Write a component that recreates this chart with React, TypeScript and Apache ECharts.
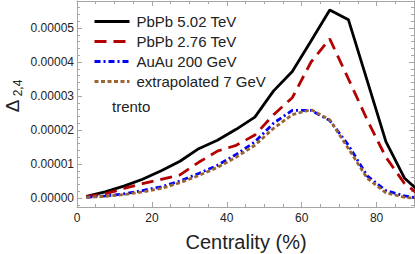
import React, { useEffect, useRef } from "react";
import * as echarts from "echarts";

const centrality = [2.5, 7.5, 12.5, 17.5, 22.5, 27.5, 32.5, 37.5, 42.5, 47.5, 52.5, 57.5, 62.5, 67.5, 72.5, 77.5, 82.5, 87.5, 92.5];
const pbpb502 = [0.05e-5, 0.18e-5, 0.35e-5, 0.55e-5, 0.8e-5, 1.08e-5, 1.45e-5, 1.7e-5, 2.02e-5, 2.38e-5, 3.15e-5, 3.72e-5, 4.62e-5, 5.53e-5, 5.24e-5, 3.45e-5, 1.66e-5, 0.58e-5, 0.08e-5];
const pbpb276 = [0.04e-5, 0.12e-5, 0.28e-5, 0.42e-5, 0.55e-5, 0.68e-5, 1.05e-5, 1.38e-5, 1.55e-5, 1.85e-5, 2.45e-5, 2.95e-5, 4.0e-5, 4.68e-5, 3.5e-5, 2.3e-5, 1.2e-5, 0.42e-5, 0.0];
const auau200 = [0.02e-5, 0.06e-5, 0.12e-5, 0.22e-5, 0.33e-5, 0.5e-5, 0.72e-5, 0.96e-5, 1.28e-5, 1.65e-5, 2.2e-5, 2.58e-5, 2.58e-5, 2.28e-5, 1.55e-5, 0.65e-5, 0.22e-5, 0.06e-5, -0.02e-5];
const extrap7 = [0.02e-5, 0.05e-5, 0.1e-5, 0.18e-5, 0.28e-5, 0.45e-5, 0.66e-5, 0.9e-5, 1.2e-5, 1.55e-5, 2.05e-5, 2.45e-5, 2.6e-5, 2.3e-5, 1.45e-5, 0.58e-5, 0.15e-5, 0.02e-5, -0.02e-5];

const seriesNames = ["PbPb 5.02 TeV", "PbPb 2.76 TeV", "AuAu 200 GeV", "extrapolated 7 GeV"];
const xMajorTicks = [0, 20, 40, 60, 80];
const xMinorTicks = [5, 10, 15, 25, 30, 35, 45, 50, 55, 65, 70, 75, 85];
const yMajorTicks = [0, 1e-5, 2e-5, 3e-5, 4e-5, 5e-5];
const yMinorTicks = [-0.2e-5, 0.2e-5, 0.4e-5, 0.6e-5, 0.8e-5, 1.2e-5, 1.4e-5, 1.6e-5, 1.8e-5, 2.2e-5, 2.4e-5, 2.6e-5, 2.8e-5, 3.2e-5, 3.4e-5, 3.6e-5, 3.8e-5, 4.2e-5, 4.4e-5, 4.6e-5, 4.8e-5, 5.2e-5, 5.4e-5, 5.6e-5];

const X_MIN = 0;
const X_MAX = 90;
const Y_MIN = -0.2647e-5;
const Y_MAX = 5.794e-5;

const FONT = "Arial, 'Liberation Sans', sans-serif";
const FRAME = "#a6a6a6";
const TEXT = "#222";

function xAx(position: "top" | "bottom", major: boolean, labels: boolean) {
  return {
    type: "value",
    position,
    min: X_MIN,
    max: X_MAX,
    axisLine: { show: major, onZero: false, lineStyle: { color: FRAME, width: 1 } },
    axisTick: {
      show: true,
      inside: true,
      length: major ? 5 : 3,
      customValues: major ? xMajorTicks : xMinorTicks,
      lineStyle: { color: FRAME, width: 1 },
    },
    axisLabel: labels
      ? { show: true, customValues: xMajorTicks, fontSize: 12, color: TEXT, fontFamily: FONT, margin: 5 }
      : { show: false },
    splitLine: { show: false },
  };
}

function yAx(position: "left" | "right", major: boolean, labels: boolean) {
  return {
    type: "value",
    position,
    min: Y_MIN,
    max: Y_MAX,
    axisLine: { show: major, onZero: false, lineStyle: { color: FRAME, width: 1 } },
    axisTick: {
      show: true,
      inside: true,
      length: major ? 5 : 3,
      customValues: major ? yMajorTicks : yMinorTicks,
      lineStyle: { color: FRAME, width: 1 },
    },
    axisLabel: labels
      ? {
          show: true,
          customValues: yMajorTicks,
          fontSize: 12,
          color: TEXT,
          fontFamily: FONT,
          margin: 3,
          formatter: (v: number) => v.toFixed(5),
        }
      : { show: false },
    splitLine: { show: false },
  };
}

export default function App() {
  const ref = useRef<HTMLDivElement>(null);
  useEffect(() => {
    if (!ref.current) return;
    const chart = echarts.init(ref.current, null, { renderer: "svg" });
    const mk = (arr: number[]) => centrality.map((c, i) => [c, arr[i]]);
    const styles = [
      { color: "#000000", type: "solid" as any },
      { color: "#b30000", type: [12, 7] },
      { color: "#0000ff", type: [6, 3, 2, 3] },
      { color: "#996633", type: [4, 2.5] },
    ];
    const datasets = [pbpb502, pbpb276, auau200, extrap7];
    chart.setOption({
      animation: false,
      backgroundColor: "#ffffff",
      grid: { left: 77, right: 1, top: 1, bottom: 47, containLabel: false },
      xAxis: [xAx("bottom", true, true), xAx("bottom", false, false), xAx("top", true, false), xAx("top", false, false)],
      yAxis: [yAx("left", true, true), yAx("left", false, false), yAx("right", true, false), yAx("right", false, false)],
      legend: {
        orient: "vertical",
        left: 93,
        top: 14,
        itemWidth: 35,
        itemHeight: 14,
        itemGap: 5,
        data: seriesNames,
        itemStyle: { opacity: 0 },
        lineStyle: { width: 3 },
        textStyle: { fontSize: 15, color: TEXT, fontFamily: FONT, padding: [0, 0, 0, 2] },
        padding: 0,
      },
      graphic: [
        {
          type: "text",
          x: 12,
          y: 106,
          rotation: Math.PI / 2,
          style: { text: "Δ", fontSize: 19, fill: TEXT, fontFamily: FONT, textAlign: "center", textVerticalAlign: "middle" },
        },
        {
          type: "text",
          x: 18,
          y: 88,
          rotation: Math.PI / 2,
          style: { text: "2,4", fontSize: 12, fill: TEXT, fontFamily: FONT, textAlign: "center", textVerticalAlign: "middle" },
        },
        {
          type: "text",
          x: 246,
          y: 242,
          style: { text: "Centrality (%)", fontSize: 20, fill: TEXT, fontFamily: FONT, textAlign: "center", textVerticalAlign: "middle" },
        },
        {
          type: "text",
          x: 112,
          y: 106,
          style: { text: "trento", fontSize: 15, fill: TEXT, fontFamily: FONT, textAlign: "left", textVerticalAlign: "middle" },
        },
      ],
      series: datasets.map((d, i) => ({
        name: seriesNames[i],
        type: "line",
        data: mk(d),
        xAxisIndex: 0,
        yAxisIndex: 0,
        symbol: "none",
        showSymbol: false,
        clip: true,
        lineStyle: { color: styles[i].color, width: 2.8, type: styles[i].type },
        itemStyle: { color: styles[i].color },
        z: 2 + i,
      })),
    });
    return () => chart.dispose();
  }, []);
  return <div ref={ref} style={{ position: "fixed", left: 0, top: 0, width: 415, height: 254 }} />;
}
